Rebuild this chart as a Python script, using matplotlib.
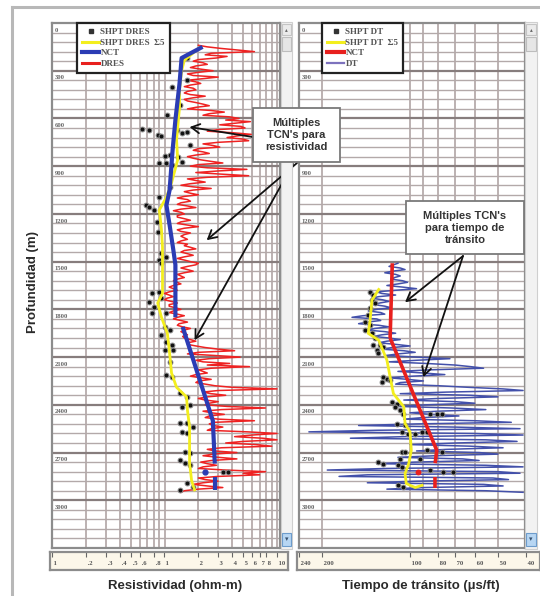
import numpy as np
import matplotlib
matplotlib.use("Agg")
import matplotlib.pyplot as plt
from matplotlib.lines import Line2D
from matplotlib.patches import Rectangle

# ---- resistivity track -------------------------------------------------
dres_depth = np.arange(140, 2960, 10)
dres_values = [
    2.0, 2.4, 3.2, 4.5, 6.3, 2.6, 2.3, 3.6, 2.9, 2.0,      # 140-230
    1.8, 2.2, 2.4, 1.9, 1.7, 2.1, 2.7, 2.0, 1.6, 1.8,      # 240-330
    3.0, 2.2, 1.6, 1.9, 2.1, 1.7, 1.5, 1.8, 1.9, 1.6,      # 340-430
    1.5, 1.7, 2.3, 1.8, 1.5, 1.6, 1.9, 2.2, 2.5, 1.9,      # 440-530
    1.6, 2.6, 3.4, 2.5, 2.2, 3.8, 4.6, 3.5, 5.8, 4.2,      # 540-630
    3.1, 4.8, 5.2, 3.0, 2.4, 4.1, 5.9, 4.4, 3.6, 5.0,      # 640-730
    5.6, 3.0, 2.2, 2.7, 3.1, 2.0, 1.8, 2.2, 2.5, 1.9,      # 740-830
    1.6, 1.8, 2.1, 2.6, 3.3, 2.0, 1.7, 2.4, 5.4, 3.0,      # 840-930
    1.9, 3.2, 5.6, 2.4, 1.6, 1.9, 2.3, 1.7, 1.4, 1.8,      # 940-1030
    2.6, 1.8, 1.5, 1.7, 2.0, 1.5, 1.3, 1.6, 1.7, 1.4,      # 1040-1130
    1.3, 1.6, 1.9, 1.4, 1.2, 1.4, 1.5, 1.3, 1.3, 1.5,      # 1140-1230
    1.7, 1.4, 1.3, 1.6, 2.0, 1.5, 1.3, 1.4, 1.7, 1.5,      # 1240-1330
    1.4, 1.5, 1.6, 1.4, 1.3, 1.6, 1.5, 1.7, 1.9, 1.5,      # 1340-1430
    1.4, 1.6, 1.8, 1.5, 1.3, 1.5, 1.7, 2.0, 1.9, 1.6,      # 1440-1530
    1.4, 1.6, 1.8, 1.5, 1.3, 1.4, 1.5, 1.3, 1.2, 1.3,      # 1540-1630
    1.4, 1.2, 1.1, 1.2, 1.3, 1.1, 1.0, 1.1, 1.2, 1.05,     # 1640-1730
    1.0, 1.15, 1.3, 1.1, 1.1, 1.25, 1.4, 1.2, 1.1, 1.3,    # 1740-1830
    1.5, 1.3, 1.2, 1.4, 1.6, 1.35, 1.3, 1.45, 1.7, 1.5,    # 1840-1930
    1.4, 1.5, 1.6, 1.45, 1.5, 1.7, 1.9, 1.6, 1.6, 1.9,     # 1940-2030
    2.3, 3.0, 4.2, 2.0, 1.6, 2.8, 4.7, 2.5, 1.9, 2.2,      # 2040-2130
    3.8, 2.4, 5.7, 2.6, 2.0, 2.2, 2.4, 1.9, 1.7, 2.1,      # 2140-2230
    2.6, 2.0, 1.9, 2.3, 2.8, 4.0, 10.0, 3.0, 2.2, 2.6,     # 2240-2330
    3.5, 2.4, 2.0, 2.3, 3.0, 2.5, 2.3, 3.6, 7.9, 3.2,      # 2340-2430
    2.2, 2.6, 3.4, 2.5, 2.3, 3.0, 6.3, 2.8, 2.5, 2.7,      # 2440-2530
    3.3, 2.6, 2.4, 5.5, 10.0, 6.0, 4.2, 7.5, 10.0, 5.0,    # 2540-2630
    3.5, 6.5, 9.0, 3.2, 2.4, 2.8, 4.4, 2.7, 2.2, 3.0,      # 2640-2730
    4.4, 2.6, 2.1, 2.4, 2.9, 2.2, 2.0, 3.5, 7.9, 5.0,      # 2740-2830
    7.0, 3.0, 2.0, 2.3, 3.0, 2.2, 1.8, 2.4, 3.3, 2.0,      # 2840-2930
    1.5, 1.4,                                              # 2940-2950
]

res_smooth_depth = [155, 235, 300, 420, 530, 735, 860, 1005, 1095, 1175, 1300,
                    1410, 1510, 1700, 1760, 1850, 1950, 2075, 2200, 2290, 2350,
                    2435, 2540, 2685, 2765, 2875, 2935]
res_smooth = [2.05, 1.50, 1.42, 1.36, 1.36, 1.28, 1.31, 1.155, 1.04, 0.90, 0.94,
              0.96, 0.96, 0.96, 0.87, 0.94, 1.06, 1.11, 1.155, 1.28, 1.57,
              1.60, 1.67, 1.67, 1.67, 1.74, 1.85]

res_nct_depth_a = [150, 220, 380, 610, 800, 1050, 1145, 1270, 1430, 1520, 1850]
res_nct_a = [2.18, 1.42, 1.36, 1.25, 1.18, 1.11, 1.04, 1.11, 1.20, 1.25, 1.25]
res_nct_depth_b = [1910, 2500, 2770]
res_nct_b = [1.45, 2.69, 2.80]
res_nct_depth_c = [2855, 2935]
res_nct_c = [2.80, 2.80]
res_nct_dot = (2825, 2.28)

shpt_res_depth = [220, 233, 358, 402, 516, 579, 667, 673, 704, 711, 673, 692, 686,
                  767, 836, 830, 843, 874, 880, 880, 893, 1031, 1094, 1145, 1157,
                  1176, 1252, 1314, 1446, 1472, 1490, 1509, 1698, 1755, 1786, 1692,
                  1729, 1824, 1824, 1912, 1931, 1962, 2006, 2025, 2057, 2057, 2132,
                  2214, 2226, 2327, 2352, 2415, 2402, 2516, 2516, 2541, 2572, 2578,
                  2698, 2704, 2748, 2767, 2780, 2893, 2918, 2824, 2824, 2937]
shpt_res = [1.57, 1.42, 1.57, 1.155, 1.36, 1.06, 0.636, 0.735, 0.87, 0.94, 1.28,
            1.42, 1.57, 1.67, 1.0, 1.11, 1.31, 1.42, 0.90, 1.04, 1.155, 1.11, 0.90,
            0.69, 0.735, 0.81, 0.85, 0.87, 0.94, 1.04, 0.90, 0.94, 0.78, 0.735,
            0.81, 0.90, 0.94, 0.78, 1.04, 1.0, 1.11, 0.94, 1.04, 1.155, 1.0, 1.18,
            1.11, 1.04, 1.155, 1.36, 1.60, 1.42, 1.67, 1.36, 1.57, 1.78, 1.42,
            1.60, 1.51, 1.67, 1.36, 1.51, 1.67, 1.57, 1.78, 3.30, 3.65, 1.36]

# ---- transit time track ------------------------------------------------
dt_depth = np.arange(1510, 2960, 10)
dt_values = [
    110, 114, 118, 108, 104, 115, 122, 112, 108, 113,      # 1510-1600
    116, 106, 102, 110, 120, 106, 95, 112, 130, 125,       # 1610-1700
    112, 128, 135, 124, 118, 127, 133, 122, 116, 130,      # 1710-1800
    139, 126, 122, 145, 158, 130, 126, 140, 150, 128,      # 1810-1900
    118, 132, 141, 122, 112, 125, 133, 118, 108, 120,      # 1910-2000
    128, 112, 100, 115, 125, 105, 96, 110, 121, 95,        # 2010-2100
    73, 95, 118, 88, 70, 62, 56, 85, 110, 90,              # 2110-2200
    76, 98, 118, 102, 90, 108, 112, 80, 63, 48,            # 2210-2300
    41, 75, 108, 62, 50, 80, 105, 70, 60, 88,              # 2310-2400
    110, 72, 55, 80, 100, 85, 68, 90, 105, 60,             # 2410-2500
    45, 95, 150, 70, 42, 130, 222, 60, 41, 105,            # 2510-2600
    160, 55, 43, 70, 100, 62, 48, 75, 95, 58,              # 2610-2700
    50, 82, 110, 66, 58, 96, 130, 55, 41, 120,             # 2710-2800
    192, 50, 42, 140, 175, 52, 46, 95, 140, 56,            # 2810-2900
    48, 90, 120, 55, 41,                                   # 2910-2950
]

dt_smooth_depth = [1675, 1742, 1868, 1951, 1994, 2119, 2224, 2329, 2413, 2518,
                   2570, 2685, 2769, 2832, 2895, 2920, 2906]
dt_smooth = [128, 135, 137, 139, 128, 120, 117, 114, 105, 104, 100, 99, 101, 104,
             103, 96, 91]

dt_nct_depth_a = [1510, 1980]
dt_nct_a = [115, 117]
dt_nct_depth_b = [1980, 2686, 2767]
dt_nct_b = [117, 81, 82]
dt_nct_depth_c = [2855, 2925]
dt_nct_c = [82, 82]
dt_nct_dot = (2824, 94)

shpt_dt_depth = [1690, 1711, 1742, 1763, 1794, 1836, 1879, 1899, 1931, 1951, 1983,
                 2025, 2025, 2036, 2057, 2077, 2224, 2256, 2235, 2245, 2382, 2392,
                 2413, 2434, 2455, 2518, 2528, 2570, 2581, 2581, 2570, 2570, 2455,
                 2455, 2455, 2696, 2696, 2738, 2780, 2790, 2759, 2769, 2811, 2822,
                 2822, 2906, 2916, 2685, 2696, 2738]
shpt_dt = [137, 133.6, 135, 132, 137, 139, 142.6, 137, 142.6, 135, 132, 133.6,
           127, 123.5, 130, 128.4, 123.5, 125, 120, 117, 115.5, 111, 112.5, 108,
           105.4, 111, 104, 106.8, 101.4, 96, 91.2, 87.7, 85.4, 81, 78, 106.8, 104,
           108, 109.7, 106.8, 128.4, 123.5, 85.4, 77, 71, 109.7, 105.4, 87.7, 78,
           92.3]

res_grid = [0.2, 0.3, 0.4, 0.5, 0.6, 0.7, 0.8, 0.9, 1, 2, 3, 4, 5, 6, 7, 8, 9, 10]
res_ticks = [0.1, 0.2, 0.3, 0.4, 0.5, 0.6, 0.8, 1, 2, 3, 4, 5, 6, 7, 8, 10]
res_tick_labels = ["1", ".2", ".3", ".4", ".5", ".6", ".8", "1", "2", "3", "4",
                   "5", "6", "7", "8", "10"]
dt_grid = [200, 100, 90, 80, 70, 60, 50]
dt_ticks = [240, 200, 100, 80, 70, 60, 50, 40]
dt_tick_labels = ["240", "200", "100", "80", "70", "60", "50", "40"]
depth_labels = list(range(0, 3300, 300))

# ---- layout (pixels of a 540 x 596 canvas) -------------------------------
W, H = 540, 596
TOP, BOT = 23, 548
DEPTH_MAX = 3300
RES_X0, RES_DEC = 52, 112.5      # x of 0.1 ohm-m, px per decade
DT_X0, DT_DEC = 299, 292.0       # x of 240 us/ft, px per decade


def fx(x):
    return x / W


def fy(y):
    return 1 - y / H


def res_lim(x0, x1):
    return 0.1 * 10 ** ((x0 - RES_X0) / RES_DEC), 0.1 * 10 ** ((x1 - RES_X0) / RES_DEC)


def dt_lim(x0, x1):
    return 240 / 10 ** ((x0 - DT_X0) / DT_DEC), 240 / 10 ** ((x1 - DT_X0) / DT_DEC)


serif = dict(family="Liberation Serif", weight="bold")
sans = dict(family="Liberation Sans", weight="bold")

fig = plt.figure(figsize=(W / 100, H / 100), dpi=100)
fig.patch.set_facecolor("white")

ax1 = fig.add_axes([fx(52), fy(BOT), (280 - 52) / W, (BOT - TOP) / H])
ax2 = fig.add_axes([fx(299), fy(BOT), (525 - 299) / W, (BOT - TOP) / H])
ax1.set_xscale("log")
ax2.set_xscale("log")
ax1.set_xlim(*res_lim(52, 280))
ax2.set_xlim(*dt_lim(299, 525))

for ax, grid in ((ax1, res_grid), (ax2, dt_grid)):
    ax.set_ylim(DEPTH_MAX, 0)
    ax.tick_params(which="both", length=0, labelbottom=False, labelleft=False)
    ax.minorticks_off()
    ax.set_xticks([])
    ax.set_yticks([])
    for s in ax.spines.values():
        s.set_color("#8c8c8c")
        s.set_linewidth(1.6)
    for v in grid:
        ax.axvline(v, color="#a99d9d", lw=1.1, zorder=0)
    for d in range(60, DEPTH_MAX, 60):
        if d % 300 == 0:
            ax.axhline(d, color="#877d7d", lw=1.6, zorder=0)
        else:
            ax.axhline(d, color="#b3a9a9", lw=1.0, zorder=0)
    for d in depth_labels:
        # the 600 m label of the second track sits under the callout box
        if ax is ax2 and d == 600:
            continue
        ax.text(0.012, d + 45, str(d), transform=ax.get_yaxis_transform(),
                fontsize=4.8, color="#666", va="center", ha="left", **serif)

# resistivity curves
ax1.plot(dres_values, dres_depth, color="#ee2222", lw=1.1, zorder=2)
ax1.plot(shpt_res, shpt_res_depth, ls="none", marker="o", ms=3.5, mfc="#111",
         mec="#8a8a8a", mew=0.7, zorder=3)
ax1.plot(res_smooth, res_smooth_depth, color="#f3ee1e", lw=2.0, zorder=4)
for xs, ys in ((res_nct_a, res_nct_depth_a), (res_nct_b, res_nct_depth_b),
               (res_nct_c, res_nct_depth_c)):
    ax1.plot(xs, ys, color="#2b3cb4", lw=3.0, zorder=5, solid_capstyle="butt")
ax1.plot(res_nct_dot[1], res_nct_dot[0], "o", color="#2b3cb4", ms=3.5, zorder=5)

# transit time curves
ax2.plot(dt_values, dt_depth, color="#4350aa", lw=1.1, zorder=2)
ax2.plot(shpt_dt, shpt_dt_depth, ls="none", marker="o", ms=3.5, mfc="#111",
         mec="#8a8a8a", mew=0.7, zorder=3)
ax2.plot(dt_smooth, dt_smooth_depth, color="#f3ee1e", lw=2.0, zorder=4)
for xs, ys in ((dt_nct_a, dt_nct_depth_a), (dt_nct_b, dt_nct_depth_b),
               (dt_nct_c, dt_nct_depth_c)):
    ax2.plot(xs, ys, color="#e8201e", lw=2.6, zorder=5, solid_capstyle="butt")
ax2.plot(dt_nct_dot[1], dt_nct_dot[0], "o", color="#e8201e", ms=3.2, zorder=5)

# legends
leg_kw = dict(loc="upper left", frameon=True, fancybox=False, edgecolor="#222",
              framealpha=1, borderpad=0.55, labelspacing=0.25, handlelength=1.9,
              handletextpad=0.15, borderaxespad=0,
              prop=dict(family="Liberation Serif", weight="bold", size=6.5))
h1 = [Line2D([], [], ls="none", marker="s", ms=2.6, color="#333"),
      Line2D([], [], color="#f3ee1e", lw=2.2),
      Line2D([], [], color="#2b3cb4", lw=3),
      Line2D([], [], color="#e8201e", lw=2.2)]
leg1 = ax1.legend(h1, ["SHPT DRES", "SHPT DRES  Σ5", "NCT", "DRES"],
                  bbox_to_anchor=((77 - 52) / 228, 1.0), **leg_kw)
h2 = [Line2D([], [], ls="none", marker="s", ms=2.6, color="#333"),
      Line2D([], [], color="#f3ee1e", lw=2.2),
      Line2D([], [], color="#e8201e", lw=3),
      Line2D([], [], color="#7d72bd", lw=1.6)]
leg2 = ax2.legend(h2, ["SHPT DT", "SHPT DT  Σ5", "NCT", "DT"],
                  bbox_to_anchor=((322 - 299) / 226, 1.0), **leg_kw)
for leg in (leg1, leg2):
    leg.get_frame().set_linewidth(1.6)
    leg.set_zorder(10)
    for t in leg.get_texts():
        t.set_color("#555")

# scale strips under each track
s1 = fig.add_axes([fx(50), fy(570), 238 / W, 18 / H])
s1.set_xscale("log")
s1.set_xlim(*res_lim(50, 288))
s2 = fig.add_axes([fx(297), fy(570), 243 / W, 18 / H])
s2.set_xscale("log")
s2.set_xlim(*dt_lim(297, 540))
for s, ticks, labels in ((s1, res_ticks, res_tick_labels), (s2, dt_ticks, dt_tick_labels)):
    s.set_facecolor("#fcf7ea")
    s.set_ylim(0, 1)
    s.minorticks_off()
    s.set_xticks([])
    s.set_yticks([])
    for sp in s.spines.values():
        sp.set_color("#8c8c8c")
        sp.set_linewidth(1.6)
    s.vlines(ticks, 0.72, 1.0, color="#666", lw=0.8)
    for v, lab in zip(ticks, labels):
        s.text(v, 0.35, " " + lab, fontsize=4.8, color="#555", va="center",
               ha="left", **serif)


def box(x0, y0, x1, y1, fc, ec, lw=0.8, z=20):
    fig.add_artist(Rectangle((fx(x0), fy(y1)), (x1 - x0) / W, (y1 - y0) / H,
                             transform=fig.transFigure, fc=fc, ec=ec, lw=lw,
                             zorder=z))


# scrollbars on the right of each track
for x0, x1 in ((281, 292), (525, 537)):
    box(x0, TOP - 1, x1, BOT + 1, "#f2f2f2", "#cfcfcf")
    box(x0 + 1, TOP + 1, x1 - 1, TOP + 12, "#ebebeb", "#c4c4c4")
    fig.text(fx((x0 + x1) / 2), fy(TOP + 7), "▴", fontsize=4, color="#666",
             ha="center", va="center", zorder=21)
    box(x0 + 1, TOP + 14, x1 - 1, TOP + 28, "#e6e6e6", "#bdbdbd")
    box(x0 + 1, BOT - 15, x1 - 1, BOT - 2, "#b7d6f3", "#6d9ccc")
    fig.text(fx((x0 + x1) / 2), fy(BOT - 8.5), "▾", fontsize=5, color="#36506e",
             ha="center", va="center", zorder=21)

# callouts
box(253, 108, 340, 162, "white", "#7a7a7a", lw=1.3, z=22)
fig.text(fx(296), fy(135), "Múltiples\nTCN's para\nresistividad", ha="center",
         va="center", fontsize=8, linespacing=1.3, color="#333", zorder=23, **sans)
box(406, 201, 524, 254, "white", "#7a7a7a", lw=1.3, z=22)
fig.text(fx(465), fy(228), "Múltiples TCN's\npara tiempo de\ntránsito", ha="center",
         va="center", fontsize=8, linespacing=1.3, color="#333", zorder=23, **sans)

arrow = dict(arrowstyle="->,head_length=0.6,head_width=0.33", color="#111",
             lw=1.3, shrinkA=0, shrinkB=0)
for (res, d), (tx, ty) in (((1.67, 654), (253, 137)),
                           ((2.37, 1365), (297, 163)),
                           ((1.85, 1994), (293, 164))):
    a = ax1.annotate("", xy=(res, d), xytext=(fx(tx), fy(ty)),
                     textcoords="figure fraction", arrowprops=arrow,
                     annotation_clip=False)
    a.set_zorder(24)
for (dt, d), (tx, ty) in (((104, 1755), (463, 256)),
                          ((90, 2226), (463, 256))):
    a = ax2.annotate("", xy=(dt, d), xytext=(fx(tx), fy(ty)),
                     textcoords="figure fraction", arrowprops=arrow,
                     annotation_clip=False)
    a.set_zorder(24)

# titles and outer frame
fig.text(fx(175), fy(586), "Resistividad (ohm-m)", ha="center", va="center",
         fontsize=9.5, color="#2a2a2a", **sans)
fig.text(fx(421), fy(586), "Tiempo de tránsito (µs/ft)", ha="center", va="center",
         fontsize=9.5, color="#2a2a2a", **sans)
fig.text(fx(33), fy(282), "Profundidad (m)", rotation=90, ha="center", va="center",
         fontsize=9.5, color="#2a2a2a", **sans)
fig.add_artist(Line2D([fx(12), fx(12)], [fy(H), fy(7)], transform=fig.transFigure,
                      color="#b8b8b8", lw=2.2))
fig.add_artist(Line2D([fx(12), fx(W)], [fy(7), fy(7)], transform=fig.transFigure,
                      color="#b8b8b8", lw=2.2))

fig.savefig("out.png", dpi=100)
